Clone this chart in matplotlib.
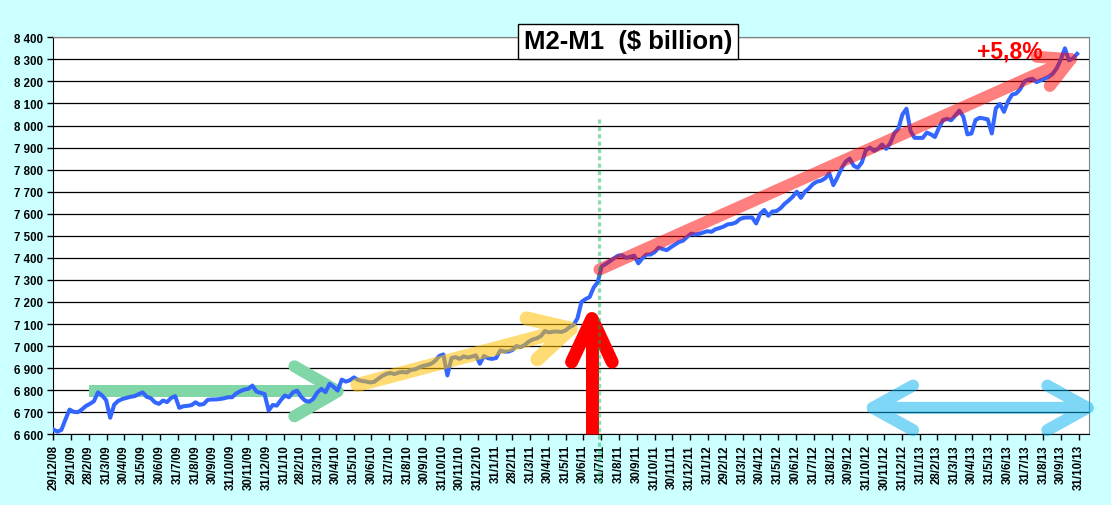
import numpy as np
import pandas as pd
import matplotlib
matplotlib.use("Agg")
import matplotlib.pyplot as plt
import matplotlib.dates as mdates
from matplotlib.path import Path
from matplotlib.patches import PathPatch, Rectangle
from datetime import datetime

plt.rcParams["font.family"] = ["Liberation Sans", "DejaVu Sans"]

# weekly M2-M1, $ billion, first week 29/12/08
start_week = "2008-12-29"
m2_m1 = [
    6622, 6612, 6620, 6668, 6712, 6702, 6700, 6712, 6728, 6738,
    6750, 6790, 6776, 6755, 6675, 6735, 6752, 6760, 6765, 6770,
    6773, 6782, 6790, 6770, 6764, 6745, 6738, 6753, 6746, 6765,
    6773, 6720, 6727, 6729, 6732, 6745, 6734, 6737, 6756, 6758,
    6758, 6760, 6763, 6768, 6768, 6785, 6795, 6803, 6806, 6821,
    6794, 6788, 6783, 6708, 6733, 6730, 6755, 6776, 6768, 6790,
    6798, 6770, 6752, 6748, 6761, 6790, 6806, 6791, 6829, 6815,
    6798, 6848, 6839,
    6845, 6858, 6846, 6842, 6839, 6835, 6838, 6852, 6865, 6874,
    6878, 6873, 6880, 6883, 6880, 6892, 6894, 6903, 6910, 6914,
    6920, 6933, 6955, 6962, 6867, 6945, 6950, 6942, 6953, 6948,
    6952, 6958, 6920, 6955, 6945, 6942, 6946, 6980, 6975, 6975,
    6982, 7000, 6995, 7005, 7020, 7030, 7035, 7045, 7068, 7062,
    7065, 7066, 7064, 7070, 7085, 7095, 7125, 7200, 7213, 7222,
    7265, 7290, 7362, 7372, 7385, 7398, 7410,
    7412, 7400, 7405, 7410, 7375, 7398, 7415, 7415, 7426, 7446,
    7440, 7435, 7448, 7460, 7472, 7478, 7495, 7510, 7506, 7509,
    7515, 7521, 7518, 7530, 7535, 7542, 7552, 7554, 7560, 7576,
    7582, 7583, 7583, 7556, 7600, 7617, 7591, 7610, 7612, 7625,
    7645, 7660, 7677, 7700, 7672, 7700, 7715, 7735, 7746, 7750,
    7761, 7783, 7730, 7765, 7805,
    7835, 7850, 7818, 7808, 7832, 7888, 7900, 7885, 7895, 7914,
    7894, 7920, 7965, 7985, 8050, 8076, 7975, 7944, 7944, 7944,
    7968, 7960, 7948, 7990, 8025, 8030, 8024, 8045, 8068, 8040,
    7960, 7964, 8025, 8035, 8032, 8028, 7964, 8078, 8098, 8062,
    8110, 8140, 8145, 8165, 8200, 8208, 8212, 8197, 8205, 8212,
    8221, 8235, 8260, 8300, 8350, 8295, 8305, 8325,
]

tick_labels = [
    "29/12/08", "29/1/09", "28/2/09", "31/3/09", "30/4/09", "31/5/09", "30/6/09",
    "31/7/09", "31/8/09", "30/9/09", "31/10/09", "30/11/09", "31/12/09", "31/1/10",
    "28/2/10", "31/3/10", "30/4/10", "31/5/10", "30/6/10", "31/7/10", "31/8/10",
    "30/9/10", "31/10/10", "30/11/10", "31/12/10", "31/1/11", "28/2/11", "31/3/11",
    "30/4/11", "31/5/11", "30/6/11", "31/7/11", "31/8/11", "30/9/11", "31/10/11",
    "30/11/11", "31/12/11", "31/1/12", "29/2/12", "31/3/12", "30/4/12", "31/5/12",
    "30/6/12", "31/7/12", "31/8/12", "30/9/12", "31/10/12", "30/11/12", "31/12/12",
    "31/1/13", "28/2/13", "31/3/13", "30/4/13", "31/5/13", "30/6/13", "31/7/13",
    "31/8/13", "30/9/13", "31/10/13",
]
y_ticks = list(range(6600, 8401, 100))

title = "M2-M1  ($ billion)"
growth_label = "+5,8%"

weeks = pd.date_range(start_week, periods=len(m2_m1), freq="7D")
tick_dates = [datetime.strptime(s, "%d/%m/%y") for s in tick_labels]

fig = plt.figure(figsize=(11.11, 5.06), dpi=100, facecolor="#CCFFFF")
W, H = 1111, 506
ax = fig.add_axes([53.3 / W, 1 - 435.3 / H, (1089.3 - 53.3) / W, (435.3 - 38.3) / H])
ax.set_facecolor("white")

ax.plot(weeks, m2_m1, color="#3366FF", lw=2.9, zorder=3, solid_joinstyle="round")
ax.set_xlim(pd.Timestamp("2008-12-29"), pd.Timestamp("2013-11-18"))
ax.set_ylim(6600, 8400)

ax.set_yticks(y_ticks)
ax.set_yticklabels([f"{v:,}".replace(",", " ") for v in y_ticks])
ax.set_xticks(tick_dates)
ax.set_xticklabels(tick_labels, rotation=90)
ax.tick_params(axis="both", labelsize=8.3, length=4, width=1, color="black")
ax.tick_params(axis="y", pad=3.5)
ax.tick_params(axis="x", pad=3)
for lab in ax.get_xticklabels() + ax.get_yticklabels():
    lab.set_fontweight("bold")

ax.yaxis.grid(True, color="black", lw=0.9)
ax.set_axisbelow(True)
ax.spines["left"].set_color("black")
ax.spines["bottom"].set_color("black")
ax.spines["top"].set_color("#808080")
ax.spines["right"].set_color("#808080")


def chevron(p0, p1, color, width_px, head_px, head_deg, alpha=1.0, z=4,
            double=False, flat_tail=False):
    to_px = ax.transData
    a = to_px.transform([mdates.date2num(pd.Timestamp(p0[0])), p0[1]])
    b = to_px.transform([mdates.date2num(pd.Timestamp(p1[0])), p1[1]])
    u = (b - a) / np.hypot(*(b - a))

    def head(tip, direction):
        pts = []
        for sgn in (1, -1):
            th = np.radians(180 + sgn * head_deg)
            rot = np.array([[np.cos(th), -np.sin(th)], [np.sin(th), np.cos(th)]])
            pts.append(tip + rot @ direction * head_px)
        return [pts[0], tip, pts[1]]

    heads = [head(b, u)]
    if double:
        heads.append(head(a, -u))
    back = to_px.inverted()
    lw = width_px * 72 / fig.dpi

    def add(verts, codes, cap):
        path = Path(back.transform(np.array(verts)), codes)
        ax.add_patch(PathPatch(path, fill=False, edgecolor=color, lw=lw, alpha=alpha,
                               capstyle=cap, joinstyle="round", zorder=z, clip_on=False))

    head_verts = [p for h in heads for p in h]
    head_codes = [Path.MOVETO, Path.LINETO, Path.LINETO] * len(heads)
    if flat_tail:
        add([a, b], [Path.MOVETO, Path.LINETO], "butt")
        add(head_verts, head_codes, "round")
    else:
        add([a, b] + head_verts, [Path.MOVETO, Path.LINETO] + head_codes, "round")


# trend arrows
chevron(("2009-02-28", 6795), ("2010-05-03", 6795), "#80D6A6", 12, 50, 30, z=2, flat_tail=True)
chevron(("2010-06-06", 6824), ("2011-06-08", 7079), "#FFC000", 14, 45, 28, alpha=0.55, z=4)
chevron(("2011-07-28", 7347), ("2013-10-17", 8301), "#FF0000", 12, 34, 28, alpha=0.5, z=4)
chevron(("2012-11-10", 6720), ("2013-11-15", 6720), "#00B0F0", 12, 46, 29, alpha=0.5, z=4,
        double=True)
chevron(("2011-07-15", 6600), ("2011-07-15", 7125), "#FF0000", 13, 48, 25, z=5, flat_tail=True)

# dotted marker line
mark_day = pd.Timestamp("2011-07-27")
ax.plot([mark_day, mark_day], [8029, 6370], color=(0, 176 / 255, 80 / 255), alpha=0.45,
        lw=2.3, linestyle=(0, (1.3, 1.0)), dash_capstyle="butt", clip_on=False, zorder=6)

# title box with drop shadow
tx, ty = 627.9 / W, 1 - 42.2 / H
title_txt = fig.text(tx, ty, title, fontsize=18.5, fontweight="bold", color="black",
                     ha="center", va="center", zorder=5,
                     bbox=dict(boxstyle="square,pad=0.22", facecolor="white",
                               edgecolor="black", lw=1))
renderer = fig.canvas.get_renderer()
box = title_txt.get_bbox_patch().get_window_extent(renderer)
fig.patches.append(Rectangle(((box.x0 + 4) / W, (box.y0 - 4) / H), box.width / W, box.height / H,
                             transform=fig.transFigure, facecolor="#9A9A9A",
                             edgecolor="none", zorder=4))

fig.text(1010 / W, 1 - 58.3 / H, growth_label, color="red", fontsize=16.5,
         fontweight="bold", ha="center", va="baseline")

fig.savefig("out.png", dpi=100, facecolor=fig.get_facecolor())
